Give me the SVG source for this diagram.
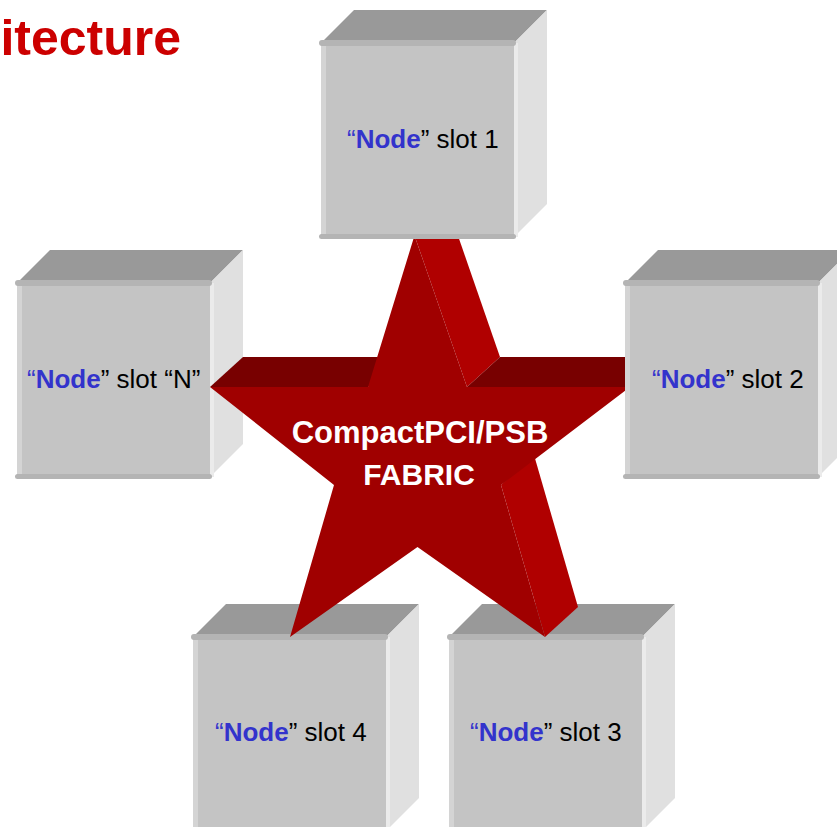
<svg xmlns="http://www.w3.org/2000/svg" width="837" height="827" viewBox="0 0 837 827">
<defs>
<style>
.front{fill:#c4c4c4}
.lstrip{fill:#d4d4d4}
.rim{fill:#b4b4b4}
.top{fill:#999999}
.side{fill:#e0e0e0}
.sline{fill:#ebebeb}
.lbl{font-family:"Liberation Sans",Arial,sans-serif;font-size:26px;fill:#000}
.q{fill:#3333cc}
.nd{font-weight:bold;fill:#3333cc}
.star-front{fill:#a00000}
.star-top{fill:#780000}
.star-side{fill:#b00000}
.fab{font-family:"Liberation Sans",Arial,sans-serif;font-weight:bold;fill:#ffffff;text-anchor:middle}
.title{font-family:"Liberation Sans",Arial,sans-serif;font-size:50px;font-weight:bold;fill:#cc0000;text-anchor:end}
</style>
<g id="cube">
<polygon class="top" points="0,0 33,-33 226,-33 193,0"/>
<polygon class="side" points="193,0 226,-33 226,161 193,194"/>
<rect class="sline" x="193" y="0" width="4" height="194"/>
<rect class="front" x="0" y="0" width="193" height="194"/>
<rect class="lstrip" x="0" y="0" width="5" height="194"/>
<rect class="rim" x="-2" y="-3" width="197" height="6" rx="3"/>
<rect class="rim" x="-2" y="191" width="197" height="5" rx="2.5"/>
</g>
</defs>
<rect width="837" height="827" fill="#ffffff"/>
<text class="title" x="181" y="55">itecture</text>

<g id="node-slotN">
<use href="#cube" x="17" y="283"/>
<text class="lbl" x="27" y="388"><tspan class="q">“</tspan><tspan class="nd">Node</tspan>” slot “N”</text>
</g>
<g id="node-slot4">
<use href="#cube" x="193" y="637"/>
<text class="lbl" x="215" y="741"><tspan class="q">“</tspan><tspan class="nd">Node</tspan>” slot 4</text>
</g>
<g id="node-slot3">
<use href="#cube" x="449" y="637"/>
<text class="lbl" x="470" y="741"><tspan class="q">“</tspan><tspan class="nd">Node</tspan>” slot 3</text>
</g>

<g id="fabric">
<polygon class="star-top" points="210,387 368,387 401,357 243,357"/>
<polygon class="star-side" points="414.5,235.5 467,387 500,357 447.5,205.5"/>
<polygon class="star-top" points="467,387 630,387 663,357 500,357"/>
<polygon class="star-side" points="501,485 545,637 578,607 534,455"/>
<polygon class="star-front" points="414.5,235.5 467,387 630,387 501,485 545,637 417.5,547 290,637 334,485 210,387 368,387"/>
<text class="fab" x="420" y="443" font-size="31">CompactPCI/PSB</text>
<text class="fab" x="419" y="485" font-size="30">FABRIC</text>
</g>

<g id="node-slot1">
<use href="#cube" x="321" y="43"/>
<text class="lbl" x="347" y="148"><tspan class="q">“</tspan><tspan class="nd">Node</tspan>” slot 1</text>
</g>
<g id="node-slot2">
<use href="#cube" x="625" y="283"/>
<text class="lbl" x="652" y="388"><tspan class="q">“</tspan><tspan class="nd">Node</tspan>” slot 2</text>
</g>
</svg>
